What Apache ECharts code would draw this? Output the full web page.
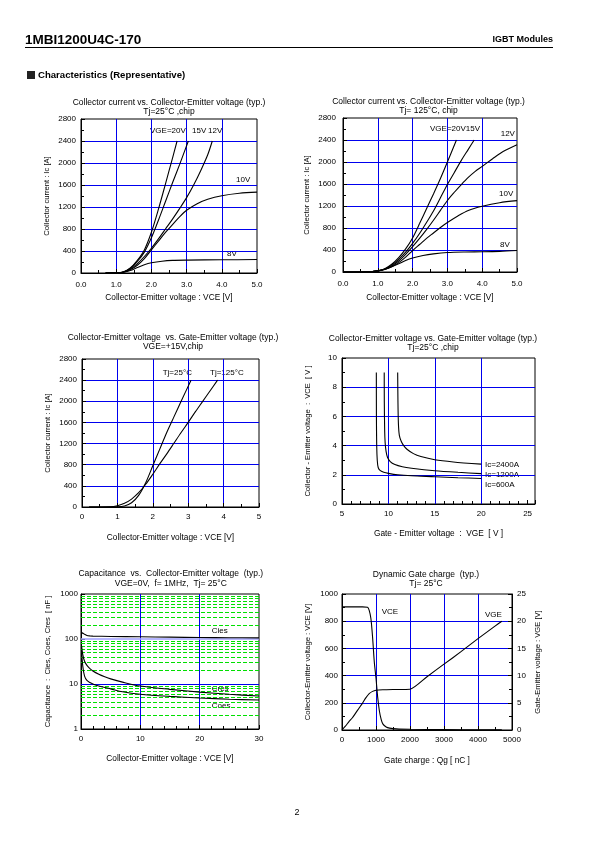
<!DOCTYPE html>
<html><head><meta charset="utf-8">
<script src="https://cdn.jsdelivr.net/npm/echarts@6/dist/echarts.min.js"></script>
<style>html,body{margin:0;padding:0;background:#fff}#c{width:595px;height:842px}</style>
</head><body><div id="c"></div>
<script>
// ---------- Chart 1: Ic vs VCE, Tj=25°C ----------
const t25_20V = [[0.7,0],[1.0,2],[1.2,20],[1.4,90],[1.6,230],[1.8,420],[2.0,740],[2.2,1160],[2.4,1620],[2.6,2090],[2.73,2400]];
const t25_15V = [[0.7,0],[1.0,2],[1.2,20],[1.4,85],[1.6,210],[1.8,380],[2.0,640],[2.2,960],[2.4,1300],[2.6,1640],[2.8,1970],[3.05,2400]];
const t25_12V = [[0.7,0],[1.0,2],[1.2,18],[1.4,70],[1.6,170],[1.8,300],[2.0,450],[2.2,620],[2.4,800],[2.6,980],[2.8,1170],[3.0,1370],[3.2,1600],[3.4,1860],[3.6,2150],[3.73,2400]];
const t25_10V = [[0.7,0],[1.0,2],[1.2,15],[1.4,60],[1.6,140],[1.8,260],[2.0,420],[2.2,580],[2.4,740],[2.6,880],[2.8,1020],[3.0,1140],[3.3,1260],[3.6,1340],[4.0,1405],[4.5,1450],[5.0,1470]];
const t25_8V  = [[0.7,0],[1.0,3],[1.2,15],[1.4,45],[1.6,100],[1.8,150],[2.0,185],[2.3,215],[2.6,230],[3.0,235],[4.0,240],[5.0,245]];

// ---------- Chart 2: Ic vs VCE, Tj=125°C ----------
const t125_20V = [[0,0],[0.8,5],[1.0,20],[1.2,60],[1.4,140],[1.6,260],[1.8,420],[2.0,620],[2.2,880],[2.4,1150],[2.6,1420],[2.8,1700],[3.0,2000],[3.26,2400]];
const t125_15V = [[0,0],[0.8,5],[1.0,20],[1.2,55],[1.4,125],[1.6,230],[1.8,360],[2.0,520],[2.2,700],[2.4,900],[2.6,1110],[2.8,1350],[3.0,1590],[3.2,1810],[3.4,2030],[3.6,2230],[3.77,2400]];
const t125_12V = [[0,0],[0.8,5],[1.0,20],[1.2,50],[1.4,110],[1.6,200],[1.8,320],[2.0,460],[2.2,610],[2.4,770],[2.6,940],[2.8,1120],[3.0,1300],[3.2,1450],[3.4,1590],[3.6,1720],[3.8,1830],[4.0,1920],[4.3,2060],[4.6,2190],[5.0,2315]];
const t125_10V = [[0,0],[0.8,5],[1.0,20],[1.2,45],[1.4,95],[1.6,170],[1.8,270],[2.0,390],[2.2,500],[2.4,610],[2.6,710],[2.8,810],[3.0,900],[3.3,1020],[3.6,1120],[4.0,1195],[4.5,1260],[5.0,1297]];
const t125_8V  = [[0,0],[0.8,5],[1.0,20],[1.2,50],[1.4,95],[1.6,150],[1.8,210],[2.0,255],[2.3,300],[2.6,330],[3.0,355],[3.5,365],[4.0,368],[4.5,375],[5.0,390]];

// ---------- Chart 3: Ic vs VCE, VGE=+15V ----------
const v15_tj25  = [[0.2,0],[1.0,5],[1.2,20],[1.4,80],[1.6,220],[1.8,460],[2.0,780],[2.2,1100],[2.4,1420],[2.6,1710],[2.8,2000],[3.08,2400]];
const v15_tj125 = [[0.2,0],[0.8,5],[1.0,25],[1.2,70],[1.4,150],[1.6,270],[1.8,430],[2.0,620],[2.2,820],[2.4,1010],[2.6,1210],[2.8,1410],[3.0,1600],[3.2,1800],[3.4,1990],[3.6,2180],[3.83,2400]];

// ---------- Chart 4: VCE vs VGE, Tj=25°C ----------
const ic2400 = [[11.0,9.0],[11.03,7.0],[11.08,5.5],[11.18,4.7],[11.38,4.3],[11.65,4.0],[12.0,3.75],[12.7,3.45],[13.5,3.25],[15,3.03],[17,2.88],[20,2.73]];
const ic1200 = [[9.55,9.0],[9.56,7.0],[9.6,5.0],[9.65,4.2],[9.75,3.6],[9.9,3.2],[10.2,2.9],[10.7,2.7],[11.5,2.55],[12.5,2.45],[15,2.28],[17.5,2.17],[20,2.08]];
const ic600  = [[8.7,9.0],[8.71,6.0],[8.74,4.0],[8.8,3.0],[8.9,2.5],[9.1,2.3],[9.5,2.18],[10,2.1],[11,2.0],[12.5,1.93],[15,1.87],[17.5,1.8],[20,1.75]];

// ---------- Chart 5: Capacitance vs VCE ----------
const cies = [[0.1,140],[0.5,130],[1,120],[1.5,117],[2,116],[5,114],[10,112],[15,110],[20,108],[25,107],[30,106]];
const cres = [[0.1,70],[0.3,45],[0.6,32],[1,26],[1.5,22],[2,19.5],[3,16.5],[4,14.5],[5,13],[7,11],[10,9],[15,7.6],[20,6.6],[25,5.9],[30,5.4]];
const coes = [[0.1,55],[0.3,25],[0.6,15],[1,12],[1.5,10.8],[2,10],[3,9],[5,7.8],[7,6.7],[10,5.9],[15,5.3],[20,4.9],[25,4.6],[30,4.4]];
const capMinor = [2,3,4,5,6,7,8,9,20,30,40,50,60,70,80,90,200,300,400,500,600,700,800,900];

// ---------- Chart 6: Dynamic gate charge ----------
const qgVce = [[0,905],[200,905],[400,905],[600,905],[750,902],[800,880],[850,820],[900,680],[950,500],[1000,380],[1050,240],[1100,140],[1150,80],[1200,45],[1300,22],[1400,14],[1600,8],[2000,5],[3000,3],[4000,2],[4700,2]];
const qgVge = [[0,0],[100,0.7],[200,1.5],[300,2.2],[400,3.1],[500,4.0],[600,4.9],[700,5.9],[800,6.7],[900,7.1],[1000,7.3],[1200,7.4],[1500,7.45],[2000,7.5],[2500,9.8],[3000,12.1],[3500,14.4],[4000,16.8],[4500,19.1],[4700,20]];

const FONT = '"Liberation Sans", Arial, sans-serif';
const BLUE = '#0000ee';
const plain = v => String(v);

function grid(l, t, w, h) {
  return {left:l, top:t, width:w, height:h, show:true, borderColor:'#000', borderWidth:1, backgroundColor:'transparent', containLabel:false, outerBoundsMode:'none'};
}
function axis(opt) {
  const o = {
    type:'value', gridIndex:opt.g, min:opt.min, max:opt.max, interval:opt.interval,
    name:opt.name, nameLocation:'middle', nameGap:opt.gap,
    nameTextStyle:{fontSize:opt.nameSize||8.3, color:'#000', fontFamily:FONT},
    axisLine:{show:true, onZero:false, lineStyle:{color:'#000', width:1}},
    axisTick:{show:true, inside:true, length:4, lineStyle:{color:'#000'}},
    minorTick:{show:!!opt.minor, splitNumber:opt.minor||5, length:3, lineStyle:{color:'#000'}},
    axisLabel:{fontSize:8, color:'#000', fontFamily:FONT, margin:opt.margin, formatter:opt.fmt||plain, showMaxLabel:true, hideOverlap:false},
    splitLine:{show:opt.split!==false, showMinLine:false, showMaxLine:false, lineStyle:{color:BLUE, width:1}}
  };
  if (opt.position) o.position = opt.position;
  if (opt.type) o.type = opt.type;
  if (opt.type === 'log') { delete o.interval; o.logBase = 10; }
  return o;
}
function line(name, data, xi, yi, smooth, extra) {
  return Object.assign({type:'line', name, data, xAxisIndex:xi, yAxisIndex:yi, showSymbol:false, symbol:'none',
    smooth: smooth, lineStyle:{color:'#000', width:1.1}, silent:true, z:5}, extra||{});
}
function txt(x, y, s, size, align, bold, rot) {
  return {type:'text', x, y, rotation: rot||0, silent:true,
    style:{text:s, fill:'#000', font:(bold?'bold ':'')+size+'px '+FONT, textAlign:align||'left', textVerticalAlign:'middle'}};
}

const f1 = v => v.toFixed(1);
const XN = 'Collector-Emitter voltage : VCE [V]';
const YN = 'Collector current : Ic [A]';

const option = {
  animation:false,
  backgroundColor:'#fff',
  textStyle:{fontFamily:FONT},
  grid:[
    grid(81,119,176,154),
    grid(343,118,174,154),
    grid(82,359,177,148),
    grid(342,358,193,146),
    grid(81,594,178,135),
    grid(342,594,170,136)
  ],
  xAxis:[
    axis({g:0,min:0,max:5,interval:1,name:XN,gap:21,fmt:f1,minor:2,margin:8}),
    axis({g:1,min:0,max:5,interval:1,name:XN,gap:22,fmt:f1,minor:2,margin:8}),
    axis({g:2,min:0,max:5,interval:1,name:XN,gap:27,minor:2,margin:6}),
    axis({g:3,min:5,max:25.8,interval:5,name:'Gate - Emitter voltage  :  VGE  [ V ]',gap:26,minor:5,margin:6,split:false,fmt:v=>(v>25.5?'':String(v))}),
    axis({g:4,min:0,max:30,interval:10,name:XN,gap:26,minor:5,margin:6}),
    axis({g:5,min:0,max:5000,interval:1000,name:'Gate charge : Qg [ nC ]',gap:27,minor:2,margin:6})
  ],
  yAxis:[
    axis({g:0,min:0,max:2800,interval:400,name:YN,gap:30,minor:2,margin:5,nameSize:7.6}),
    axis({g:1,min:0,max:2800,interval:400,name:YN,gap:32,minor:2,margin:7,nameSize:7.6}),
    axis({g:2,min:0,max:2800,interval:400,name:YN,gap:30,minor:2,margin:5,nameSize:7.6}),
    axis({g:3,min:0,max:10,interval:2,name:'Collector - Emitter voltage  :  VCE  [ V ]',gap:30,minor:2,margin:5,nameSize:7.6}),
    axis({g:4,type:'log',min:1,max:1000,name:'Capacitance  :  Cies, Coes, Cres  [ nF ]',gap:29,margin:3,split:false,nameSize:7.6}),
    axis({g:5,min:0,max:1000,interval:200,name:'Collector-Emitter voltage : VCE [V]',gap:30,minor:2,margin:4,nameSize:7.6}),
    axis({g:5,min:0,max:25,interval:5,name:'Gate-Emitter voltage : VGE [V]',gap:22,minor:2,margin:5,split:false,position:'right',nameSize:7.6})
  ],
  series:[
    line('VGE=20V', t25_20V, 0,0, 0.3),
    line('15V', t25_15V, 0,0, 0.3),
    line('12V', t25_12V, 0,0, 0.3),
    line('10V', t25_10V, 0,0, 0.3),
    line('8V', t25_8V, 0,0, 0.3),
    line('VGE=20V', t125_20V, 1,1, 0.3),
    line('15V', t125_15V, 1,1, 0.3),
    line('12V', t125_12V, 1,1, 0.3),
    line('10V', t125_10V, 1,1, 0.3),
    line('8V', t125_8V, 1,1, 0.3),
    line('Tj=25°C', v15_tj25, 2,2, 0.3),
    line('Tj=125°C', v15_tj125, 2,2, 0.3),
    line('Ic=2400A', ic2400, 3,3, 0.25, {markLine:{silent:true, symbol:'none', animation:false, label:{show:false},
      lineStyle:{color:BLUE, width:1, type:'solid'}, data:[{xAxis:10},{xAxis:15},{xAxis:20}], z:1}}),
    line('Ic=1200A', ic1200, 3,3, 0.25),
    line('Ic=600A', ic600, 3,3, 0.25),
    line('Cies', cies, 4,4, 0.3, {markLine:{silent:true, symbol:'none', animation:false, label:{show:false},
      lineStyle:{color:'#00e000', width:1, type:[4,2]},
      data: capMinor.map(v=>({yAxis:v})).concat([
        {yAxis:10, lineStyle:{color:BLUE, width:1, type:'solid'}},
        {yAxis:100, lineStyle:{color:'#9f9fff', width:1.5, type:'solid'}}
      ])}}),
    line('Cres', cres, 4,4, 0.3),
    line('Coes', coes, 4,4, 0.3),
    line('VCE', qgVce, 5,5, 0.3),
    line('VGE', qgVge, 5,6, 0.2)
  ],
  graphic:[
    txt(25,40,'1MBI1200U4C-170',13.5,'left',true),
    txt(553,40,'IGBT Modules',9,'right',true),
    {type:'line', silent:true, shape:{x1:25,y1:47.5,x2:553,y2:47.5}, style:{stroke:'#000', lineWidth:1}},
    {type:'rect', silent:true, shape:{x:27,y:71,width:8,height:8}, style:{fill:'#222'}},
    txt(38,75,'Characteristics (Representative)',9.6,'left',true),
    txt(297,813,'2',9,'center',false),
    // chart titles
    txt(169,102.3,'Collector current vs. Collector-Emitter voltage (typ.)',8.5,'center'),
    txt(169,111.7,'Tj=25°C ,chip',8.5,'center'),
    txt(428.5,101.7,'Collector current vs. Collector-Emitter voltage (typ.)',8.5,'center'),
    txt(428.5,110.7,'Tj= 125°C, chip',8.5,'center'),
    txt(173,337.3,'Collector-Emitter voltage  vs. Gate-Emitter voltage (typ.)',8.5,'center'),
    txt(173,346.3,'VGE=+15V,chip',8.5,'center'),
    txt(433,338.3,'Collector-Emitter voltage vs. Gate-Emitter voltage (typ.)',8.5,'center'),
    txt(433,347.3,'Tj=25°C ,chip',8.5,'center'),
    txt(170.8,574,'Capacitance  vs.  Collector-Emitter voltage  (typ.)',8.5,'center'),
    txt(170.8,584,'VGE=0V,  f= 1MHz,  Tj= 25°C',8.5,'center'),
    txt(426,575,'Dynamic Gate charge  (typ.)',8.5,'center'),
    txt(426,584,'Tj= 25°C',8.5,'center'),
    // curve labels chart 1
    txt(150,131,'VGE=20V',8,'left'),
    txt(192,131,'15V',8,'left'),
    txt(208,131,'12V',8,'left'),
    txt(236,180,'10V',8,'left'),
    txt(227,254,'8V',8,'left'),
    // chart 2
    txt(430,128.3,'VGE=20V15V',8,'left'),
    txt(500.7,133.3,'12V',8,'left'),
    txt(499,193.7,'10V',8,'left'),
    txt(500,244.3,'8V',8,'left'),
    // chart 3
    txt(162.7,372.3,'Tj=25°C',8,'left'),
    txt(210,372.3,'Tj=125°C',8,'left'),
    // chart 4
    txt(485,465,'Ic=2400A',8,'left'),
    txt(485,474.5,'Ic=1200A',8,'left'),
    txt(485,485,'Ic=600A',8,'left'),
    // chart 5
    txt(211.7,630.7,'Cies',8,'left'),
    txt(211.7,688.3,'Cres',8,'left'),
    txt(211.7,706,'Coes',8,'left'),
    // chart 6
    txt(381.7,611.7,'VCE',8,'left'),
    txt(485,614.3,'VGE',8,'left')
  ]
};

const chart = echarts.init(document.getElementById('c'), null, {renderer:'canvas', width:595, height:842});
chart.setOption(option);
</script>
</body></html>
